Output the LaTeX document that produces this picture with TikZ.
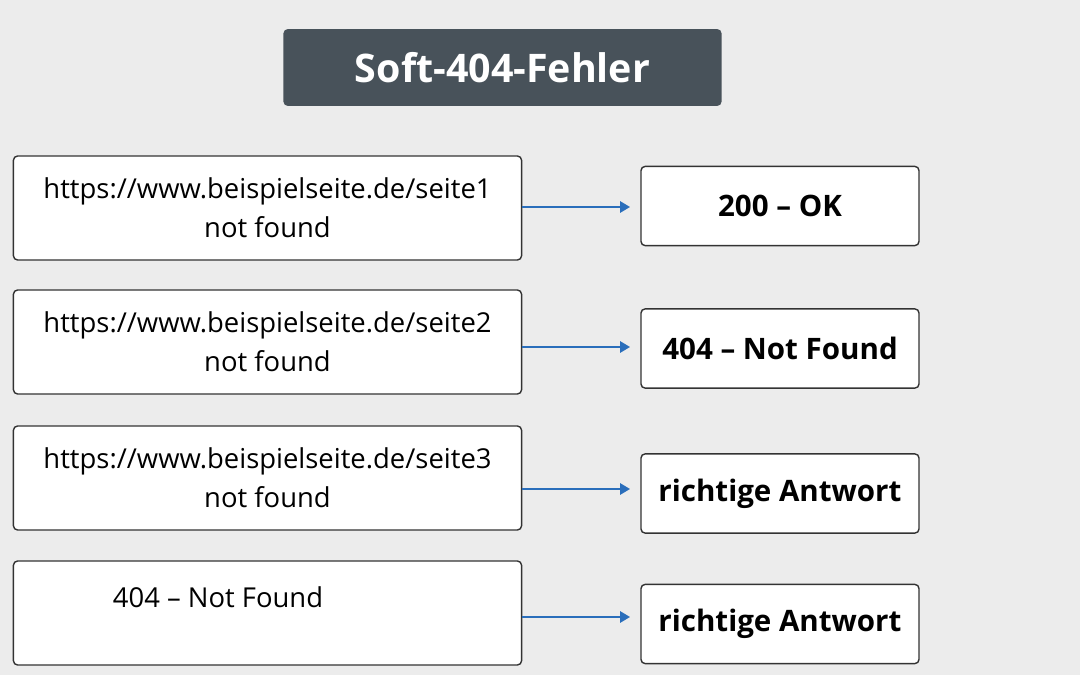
\documentclass[tikz,border=0pt]{standalone}
\usepackage{fontspec}
\setmainfont{Open Sans}
\usetikzlibrary{positioning,arrows.meta}
\definecolor{bggray}{HTML}{ECECEC}
\definecolor{titlegray}{HTML}{48525A}
\definecolor{arrowblue}{HTML}{2A6EBB}
\begin{document}
\begin{tikzpicture}[x=0.025cm,y=-0.025cm,
	urlbox/.style={draw=black!80, fill=white, rounded corners=3pt, line width=1pt,
		minimum width=12.7cm, minimum height=2.6cm, align=center,
		font=\fontsize{19.5}{28}\selectfont},
	codebox/.style={draw=black!80, fill=white, rounded corners=3pt, line width=1pt,
		minimum width=6.95cm, minimum height=1.98cm,
		font=\fontsize{21}{24}\selectfont\bfseries},
	arr/.style={draw=arrowblue, line width=1.2pt, -{Triangle[length=7pt,width=8pt]}}]
	% Hintergrund
	\fill[bggray] (0,0) rectangle (1080,675);
	% Titel
	\node[fill=titlegray, rounded corners=3pt, minimum width=10.95cm, minimum height=1.92cm,
		text=white, font=\fontsize{28}{32}\selectfont\bfseries] (title) at (502.5,67.5) {Soft-404-Fehler};
	% linke Spalte
	\node[urlbox] (url1) at (267.5,208) {https://www.beispielseite.de/seite1\\not found};
	\node[urlbox] (url2) at (267.5,342) {https://www.beispielseite.de/seite2\\not found};
	\node[urlbox] (url3) at (267.5,478) {https://www.beispielseite.de/seite3\\not found};
	\node[urlbox] (url4) at (267.5,613) {};
	\node[font=\fontsize{19.5}{22}\selectfont] (nf4) at (218,597) {404 – Not Found};
	% rechte Spalte
	\node[codebox] (code1) at (780,206) {200 – OK};
	\node[codebox] (code2) at (780,348.5) {404 – Not Found};
	\node[codebox] (code3) at (780,493.5) {richtige Antwort};
	\node[codebox] (code4) at (780,624) {richtige Antwort};
	% Pfeile
	\coordinate (a1) at (630,207);
	\coordinate (a2) at (630,347);
	\coordinate (a3) at (630,489);
	\coordinate (a4) at (630,617);
	\draw[arr] (url1.east |- a1) -- (a1);
	\draw[arr] (url2.east |- a2) -- (a2);
	\draw[arr] (url3.east |- a3) -- (a3);
	\draw[arr] (url4.east |- a4) -- (a4);
\end{tikzpicture}
\end{document}
